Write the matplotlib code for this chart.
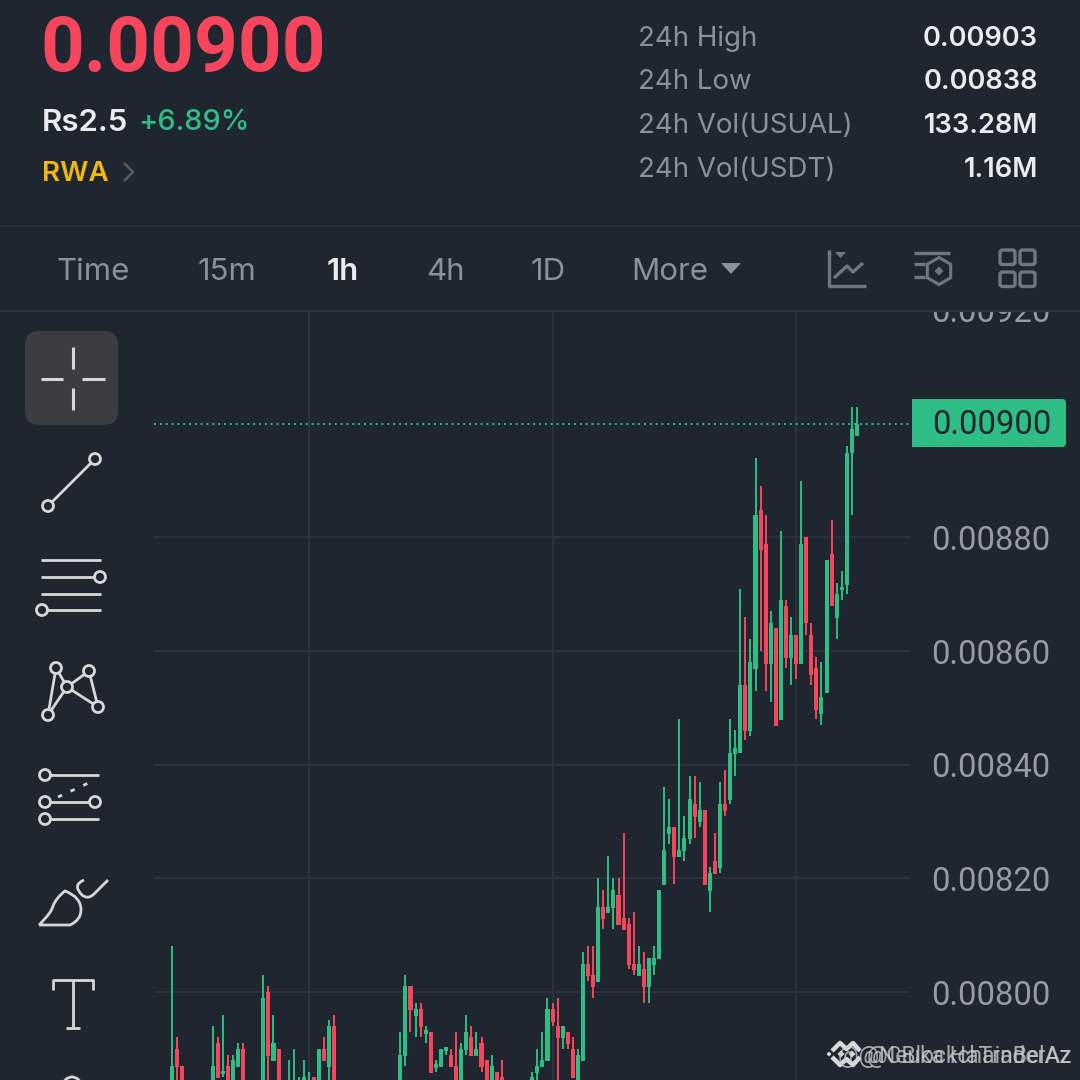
import matplotlib
matplotlib.use("Agg")
import matplotlib.pyplot as plt
from matplotlib.patches import FancyBboxPatch, Polygon, Circle, PathPatch, Rectangle, RegularPolygon
from matplotlib.path import Path
from matplotlib.ticker import FormatStrFormatter

plt.rcParams['font.family'] = ['Inter', 'DejaVu Sans']

BG = '#1f2630'
GREEN = '#2ebd85'
RED = '#f6465d'
GRID = '#2c333d'
GRAY = '#8a919c'
TICKGRAY = '#969ba5'
WHITE = '#eaecef'
ICON = '#d6d7d9'
ICON2 = '#6f7681'

# candles that show on screen, price in 0.00001 units (784 = below the visible edge)
candle_idx = [0, 1, 2, 8, 9, 10, 11, 12, 13, 14, 18, 19, 20, 21, 23, 24, 25, 26, 27, 28, 29, 30, 31, 32,
              45, 46, 47, 48, 49, 50, 51, 52, 53, 54, 55, 56, 57, 58, 59, 60, 61, 62, 63, 64, 65,
              71, 72, 73, 74, 75, 76, 77, 78, 79, 80] + list(range(81, 136))
opens = [784, 790.0, 787.0, 784, 791.0, 785.6, 787.0, 784, 786.8, 790.0, 784, 800.0, 787.9, 790.0, 784, 784, 784, 784, 784, 785.1, 784, 790.0, 786.8, 794.0,
         784, 788.7, 801.1, 795.8, 797.0, 792.7, 793.0, 786.7, 786.8, 789.7, 788.9, 787.0, 784, 789.8, 792.1, 788.7, 791.0, 788.0, 784, 785.9, 785.1,
         784, 785.8, 786.8, 787.9, 797.0, 794.0, 791.9, 793.0, 790.0, 784,
         787.9, 804.9, 803.0, 801.8, 814.9, 813.9, 814.8, 817.1, 813.0, 812.0, 804.9, 802.8, 804.0, 800.9, 804.7, 805.8,
         818.8, 827.8, 829.0, 823.7, 824.8, 826.9, 833.1, 829.9, 832.0, 817.8, 823.0, 821.8, 833.1, 833.8, 841.8,
         842.0, 854.0, 845.9, 856.8, 884.9, 878.9, 857.8, 864.0, 847.8, 868.0, 858.7, 862.9, 857.8, 880.0, 862.9, 857.0,
         848.9, 852.7, 877.0, 865.8, 870.7, 871.7, 894.8, 897.8]
highs = [808.1, 792.1, 787.0, 794.0, 792.1, 796.0, 788.9, 788.9, 791.0, 791.0, 803.0, 801.1, 796.0, 790.0, 788.0, 790.0, 785.1, 788.0, 785.9, 785.1, 790.0, 792.1, 795.1, 796.0,
         793.0, 803.0, 801.1, 798.1, 798.1, 794.0, 793.0, 788.0, 790.0, 790.2, 790.0, 793.0, 791.0, 796.0, 794.0, 793.0, 792.1, 788.0, 788.9, 785.9, 788.0,
         785.9, 790.0, 793.0, 798.9, 798.1, 798.9, 794.0, 793.0, 792.1, 790.0,
         807.0, 808.1, 808.1, 820.0, 817.9, 823.9, 820.0, 820.0, 828.0, 813.0, 814.1, 808.1, 807.0, 806.0, 808.1, 817.9,
         836.0, 833.9, 829.0, 848.0, 830.9, 838.0, 838.0, 836.9, 832.0, 822.0, 828.0, 836.9, 839.0, 848.0, 846.1,
         871.0, 865.9, 862.1, 893.9, 889.0, 884.0, 867.0, 864.0, 881.1, 868.9, 865.9, 862.9, 890.0, 880.0, 865.0, 858.9,
         858.0, 876.0, 883.0, 871.9, 874.0, 896.0, 903.0, 903.0]
lows = [784, 784, 784, 784, 784.9, 785.1, 784, 784, 786.8, 784, 784, 784, 787.9, 784, 784, 784, 784, 784, 784, 784, 784, 787.9, 784, 784,
        784, 787.0, 793.0, 792.1, 792.1, 791.0, 785.8, 785.9, 786.8, 788.9, 786.8, 784, 784, 788.9, 788.7, 788.7, 785.9, 784, 784, 784, 784,
        784, 784, 786.8, 787.9, 794.0, 784, 790.0, 790.0, 784.9, 784,
        787.9, 801.9, 798.9, 801.8, 811.1, 813.9, 811.1, 811.8, 810.9, 804.0, 803.0, 802.8, 798.1, 798.1, 803.0, 805.8,
        818.8, 826.0, 819.0, 823.7, 823.0, 826.0, 827.1, 829.0, 818.8, 814.1, 820.7, 820.9, 830.9, 833.1, 838.0,
        842.0, 844.3, 845.0, 852.9, 860.0, 852.9, 851.0, 846.8, 847.8, 857.0, 854.0, 855.0, 857.8, 862.9, 854.0, 848.0,
        846.9, 852.7, 867.9, 862.1, 868.9, 870.0, 884.0, 897.8]
closes = [787.0, 786.8, 784, 787.0, 784.9, 786.2, 784, 788.0, 790.0, 784, 798.9, 788.7, 791.0, 784, 784.2, 784.2, 784.2, 785.1, 784.2, 784, 790.0, 787.9, 794.0, 784,
          788.9, 801.1, 796.8, 797.0, 793.8, 793.3, 785.8, 787.3, 790.0, 790.3, 786.8, 784, 790.0, 793.0, 788.7, 790.0, 786.8, 784, 787.0, 784, 784,
          785.1, 787.0, 788.0, 797.0, 794.7, 791.9, 794.0, 790.9, 784.9, 788.9,
          804.9, 802.8, 800.9, 814.9, 812.8, 814.9, 817.9, 811.8, 810.9, 804.7, 803.9, 804.9, 800.9, 806.0, 806.0, 817.9,
          825.0, 829.0, 823.7, 825.0, 827.1, 833.9, 830.8, 832.0, 818.8, 820.9, 820.7, 833.1, 831.8, 842.0, 842.9,
          854.0, 845.9, 858.0, 884.0, 877.7, 857.8, 865.0, 846.8, 868.9, 858.7, 862.9, 857.8, 878.9, 864.9, 855.7, 849.6,
          852.0, 876.0, 867.9, 870.0, 871.3, 894.9, 899.0, 900.0]

price_ticks = [0.00800, 0.00820, 0.00840, 0.00860, 0.00880, 0.00920]
vgrid_idx = [27, 75, 123]
last_price = 0.00900

stats_labels = ['24h High', '24h Low', '24h Vol(USUAL)', '24h Vol(USDT)']
stats_values = ['0.00903', '0.00838', '133.28M', '1.16M']
tab_labels = ['Time', '15m', '1h', '4h', '1D', 'More']

fig = plt.figure(figsize=(10.8, 10.8), dpi=100, facecolor=BG)

# chart part, placed in pixels: x 154..910, y 310..1080
ax = fig.add_axes([154 / 1080, 0, (910 - 154) / 1080, (1080 - 310) / 1080], facecolor=BG)
ax.set_xlim(-3.55, 145.45)
ax.set_ylim(0.0078453, 0.0091991)
for s in ax.spines.values():
    s.set_visible(False)
ax.yaxis.tick_right()
ax.set_yticks(price_ticks)
ax.yaxis.set_major_formatter(FormatStrFormatter('%.5f'))
ax.tick_params(axis='y', length=0, pad=15, labelsize=23.6, labelcolor=TICKGRAY)
for lab in ax.get_yticklabels():
    lab.set_fontfamily('Roboto')
ax.set_xticks(vgrid_idx)
ax.tick_params(axis='x', length=0, labelbottom=False)
ax.grid(True, color=GRID, lw=1.4)
ax.set_axisbelow(True)

for i, o, h, l, c in zip(candle_idx, opens, highs, lows, closes):
    col = GREEN if c >= o else RED
    ax.vlines(i, l / 1e5, h / 1e5, color=col, lw=1.4, zorder=3)
    ax.bar(i, abs(c - o) / 1e5, bottom=min(o, c) / 1e5, width=0.8, color=col, lw=0, zorder=4)

ax.axhline(last_price, color=GREEN, lw=1.4, ls=(0, (1, 2)), zorder=5)

# everything around the chart is drawn on a pixel overlay
ui = fig.add_axes([0, 0, 1, 1], facecolor='none', zorder=10)
ui.set_xlim(0, 1080)
ui.set_ylim(1080, 0)
ui.axis('off')


def line(xs, ys, color=ICON, lw=2.0, **kw):
    ui.plot(xs, ys, color=color, lw=lw, solid_capstyle='butt', solid_joinstyle='round', **kw)


def ring(x, y, r=5.5, color=ICON, lw=2.0):
    ui.add_patch(Circle((x, y), r, fc=BG, ec=color, lw=lw, zorder=4))


def txt(x, y, s, size, color, weight='normal', ha='left', family=None):
    t = ui.text(x, y, s, fontsize=size, color=color, fontweight=weight, ha=ha, va='center_baseline')
    if family:
        t.set_fontfamily(family)


# header cover, hides the chart above y=310
ui.add_patch(Rectangle((0, 0), 1080, 310, fc=BG, ec='none', zorder=0))
line([0, 1080], [225.5, 225.5], color=GRID, lw=1.2)
line([0, 1080], [310.5, 310.5], color=GRID, lw=1.6)

txt(40, 43, '0.00900', 55, RED, 'bold', family='Roboto')
txt(42, 120, 'Rs2.5', 22.5, WHITE, 'semibold')
txt(138, 120, '+6.89%', 20.8, GREEN, 'medium')
txt(42, 171, 'RWA', 20, '#f0b90b', 'semibold')
line([124, 133, 124], [163, 172, 181], color='#565c66', lw=1.8)

for k, (lab, val) in enumerate(zip(stats_labels, stats_values)):
    y = 35.5 + k * 43.8
    txt(638, y, lab, 19.9, GRAY)
    txt(1038, y, val, 19.6, WHITE, 'semibold', ha='right')

tab_x = [56, 198, 327, 426, 531, 631]
for x, lab in zip(tab_x, tab_labels):
    if lab == '1h':
        txt(x, 269, lab, 22.5, WHITE, 'semibold')
    else:
        txt(x, 269, lab, 22.5, GRAY)
ui.add_patch(Polygon([(721, 263), (741, 263), (731, 274)], fc=GRAY, ec='none'))

# top right icons
line([829, 829, 866], [250, 286, 286], color=ICON2, lw=2.4)
ui.add_patch(Polygon([(835, 252), (846, 252), (840.5, 258)], fc=ICON2, ec='none'))
line([834, 847, 853, 863], [278, 266, 272, 263], color=ICON2, lw=2.4)
line([914, 950], [253, 253], color=ICON2, lw=2.4)
line([914, 925], [263.5, 263.5], color=ICON2, lw=2.4)
line([914, 925], [277, 277], color=ICON2, lw=2.4)
ui.add_patch(RegularPolygon((939, 271), 6, radius=13.5, fc='none', ec=ICON2, lw=2.2))
ui.add_patch(Polygon([(939, 266.5), (943.5, 271), (939, 275.5), (934.5, 271)], fc=ICON2, ec='none'))
for bx in (1000, 1020):
    for by in (250, 272):
        ui.add_patch(FancyBboxPatch((bx + 2, by + 2), 11, 10.5, boxstyle='round,pad=2,rounding_size=2.5',
                                    fc='none', ec=ICON2, lw=2.4))

# left toolbar
ui.add_patch(FancyBboxPatch((37, 343), 69, 70, boxstyle='round,pad=12,rounding_size=14', fc='#3c3d3f', ec='none'))
line([73, 73], [347, 369], lw=2.2)
line([73, 73], [388, 410], lw=2.2)
line([41, 63], [379, 379], lw=2.2)
line([82, 105], [379, 379], lw=2.2)

line([48, 95], [506, 459])
ring(48, 506)
ring(95, 459)

line([41, 101], [560, 560])
line([41, 100], [577, 577])
ring(100, 577)
line([41, 101], [593.5, 593.5])
line([42, 101], [610, 610])
ring(42, 610)

for seg in [((48, 56), (715, 668)), ((56, 67), (668, 687)), ((67, 89), (687, 671)), ((89, 98), (671, 707)),
            ((48, 67), (715, 687)), ((67, 98), (687, 707))]:
    line(seg[0], seg[1])
for p in [(56, 668), (89, 671), (67, 687), (48, 715), (98, 707)]:
    ring(p[0], p[1])

line([45, 99], [775, 775])
ring(45, 775)
ui.plot([58, 95], [797, 780], color=ICON, lw=2.0, ls=(0, (1.6, 3.4)))
line([45, 95], [802, 802])
ring(45, 802)
ring(95, 802)
line([45, 99], [819, 819])
ring(45, 819)

head = Path([(39, 925), (52, 912), (53, 906), (56, 898), (65, 891), (81, 897), (81, 910), (81, 920), (70, 925), (39, 925)],
            [Path.MOVETO, Path.CURVE3, Path.CURVE3, Path.CURVE3, Path.CURVE3, Path.CURVE3, Path.CURVE3, Path.CURVE3, Path.CURVE3, Path.LINETO])
ui.add_patch(PathPatch(head, fc='none', ec=ICON, lw=2.0))
hook = Path([(84, 880), (72, 885), (82, 895), (88, 900), (94, 894), (108, 880)],
            [Path.MOVETO, Path.CURVE3, Path.CURVE3, Path.CURVE3, Path.CURVE3, Path.LINETO])
ui.add_patch(PathPatch(hook, fc='none', ec=ICON, lw=2.0))

line([53, 53, 93, 93], [990, 980, 980, 990])
line([73, 73], [980, 1028])
line([66, 80], [1028, 1028])
ui.add_patch(Circle((72, 1086), 9, fc='none', ec=ICON, lw=2.0))

# last price tag
ui.add_patch(FancyBboxPatch((916, 403), 146, 40, boxstyle='round,pad=4,rounding_size=4', fc=GREEN, ec='none'))
ui.add_patch(Rectangle((912, 399), 10, 48, fc=GREEN, ec='none'))
txt(992, 422, '0.00900', 23.6, BG, ha='center', family='Roboto')

# watermark
LOGO = '#d9dadc'
line([832, 840, 846.5, 853, 860], [1051, 1043, 1049, 1043, 1051], color=LOGO, lw=3.2)
line([832, 840, 846.5, 853, 860], [1057, 1065, 1059, 1065, 1057], color=LOGO, lw=3.2)
for cx, r in [(829, 2.5), (841, 3.5), (852, 3.5)]:
    ui.add_patch(Polygon([(cx, 1054 - r), (cx + r, 1054), (cx, 1054 + r), (cx - r, 1054)], fc=LOGO, ec='none'))
for s in ['@CBlockchainBelAz', '@@Neuka HaTraderAz']:
    ui.text(1071, 1054, s, fontsize=16.5, color='#c9cacc', alpha=0.8, ha='right', va='center_baseline', family='Roboto')

fig.savefig('out.png', dpi=100, facecolor=BG)
